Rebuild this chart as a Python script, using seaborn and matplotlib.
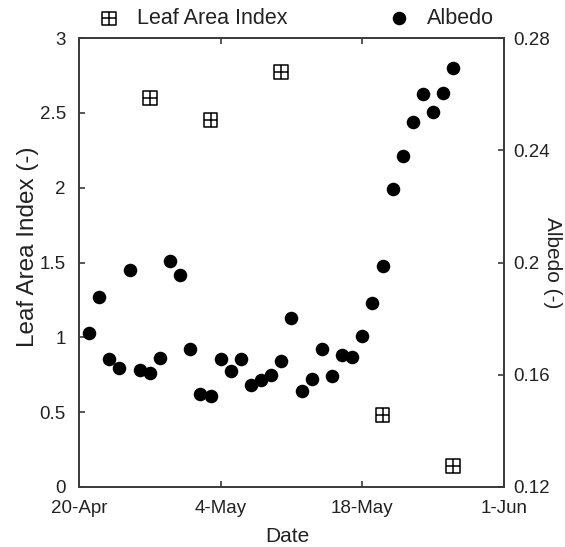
import pandas as pd
import matplotlib
matplotlib.use('Agg')
import matplotlib.pyplot as plt
from matplotlib.path import Path
import seaborn as sns

# Daily albedo observations, 21-Apr to 27-May
dates = pd.date_range('2013-04-21', periods=37, freq='D')
albedo = [0.1748, 0.1876, 0.1655, 0.1623, 0.1975, 0.1616, 0.1605, 0.1659,
          0.2004, 0.1957, 0.1691, 0.1531, 0.1524, 0.1655, 0.1612, 0.1655,
          0.1563, 0.1580, 0.1598, 0.1648, 0.1804, 0.1541, 0.1584, 0.1691,
          0.1595, 0.1669, 0.1662, 0.1737, 0.1854, 0.1989, 0.2263, 0.2380,
          0.2501, 0.2601, 0.2537, 0.2604, 0.2693]

# LAI measurements
lai_dates = pd.to_datetime(['2013-04-27', '2013-05-03', '2013-05-10',
                            '2013-05-20', '2013-05-27'])
lai = [2.60, 2.45, 2.77, 0.48, 0.14]

tick_dates = pd.to_datetime(['2013-04-20', '2013-05-04', '2013-05-18', '2013-06-01'])
tick_labels = ['20-Apr', '4-May', '18-May', '1-Jun']

df_alb = pd.DataFrame({'Date': dates, 'Albedo': albedo})
df_lai = pd.DataFrame({'Date': lai_dates, 'LAI': lai})

sns.set_style('ticks')
plt.rcParams['font.family'] = ['Liberation Sans', 'DejaVu Sans']
text_col = '#222222'
spine_col = '#3a3a3a'

# square with a cross inside (boxplus marker)
box_plus = Path(
    [(-1, -1), (1, -1), (1, 1), (-1, 1), (-1, -1),
     (0, -1), (0, 1), (-1, 0), (1, 0)],
    [Path.MOVETO, Path.LINETO, Path.LINETO, Path.LINETO, Path.CLOSEPOLY,
     Path.MOVETO, Path.LINETO, Path.MOVETO, Path.LINETO])

fig = plt.figure(figsize=(5.65, 5.47), dpi=100)
ax = fig.add_axes([0.1398, 0.1097, 0.7522, 0.8208])
ax2 = ax.twinx()

sns.scatterplot(data=df_lai, x='Date', y='LAI', ax=ax, marker=box_plus, s=100,
                facecolor='none', edgecolor='black', linewidth=1.1)
sns.scatterplot(data=df_alb, x='Date', y='Albedo', ax=ax2, marker='o', s=95,
                color='black', linewidth=0)

ax.set_xlim(tick_dates[0], tick_dates[-1])
ax.set_ylim(0, 3)
ax2.set_ylim(0.12, 0.28)
ax.set_xticks(tick_dates)
ax.set_xticklabels(tick_labels)
ax.set_yticks([0, 0.5, 1, 1.5, 2, 2.5, 3])
ax.set_yticklabels(['0', '0.5', '1', '1.5', '2', '2.5', '3'])
ax2.set_yticks([0.12, 0.16, 0.2, 0.24, 0.28])
ax2.set_yticklabels(['0.12', '0.16', '0.2', '0.24', '0.28'])

for a in (ax, ax2):
    for sp in a.spines.values():
        sp.set_visible(True)
        sp.set_color(spine_col)
        sp.set_linewidth(1.2)

ax.tick_params(axis='x', direction='in', length=4.5, width=1.2, color=spine_col,
               top=True, labeltop=False, labelsize=13.5, labelcolor=text_col, pad=9.5)
ax.tick_params(axis='y', direction='in', length=4.5, width=1.2, color=spine_col,
               labelsize=13.5, labelcolor=text_col, pad=9.5)
ax2.tick_params(axis='y', direction='in', length=4.5, width=1.2, color=spine_col,
                labelsize=13.5, labelcolor=text_col, pad=7)

ax.set_xlabel('Date', fontsize=15, color=text_col)
ax.xaxis.set_label_coords(0.49, -0.088)
ax.set_ylabel('Leaf Area Index (-)', fontsize=17.5, color=text_col, va='center')
ax.yaxis.set_label_coords(-0.12, 0.535)
# right label sits against the figure edge, kept just inside it
ax2.set_ylabel('Albedo (-)', fontsize=15, color=text_col, rotation=270, va='center')
ax2.yaxis.set_label_coords(1.115, 0.5)

fig.legend([ax.collections[0], ax2.collections[0]], ['Leaf Area Index', 'Albedo'],
           ncol=2, loc='center', bbox_to_anchor=(0.515, 0.966), frameon=False,
           fontsize=15.5, columnspacing=4.2, handletextpad=0.3, scatterpoints=1,
           labelcolor=text_col)

plt.savefig('out.png', dpi=100)
